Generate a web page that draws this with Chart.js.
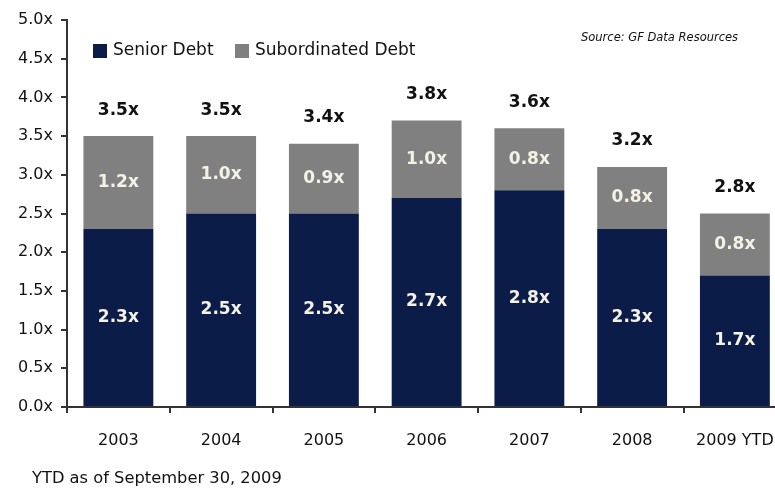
<!DOCTYPE html>
<html>
<head>
<meta charset="utf-8">
<script src="https://cdn.jsdelivr.net/npm/chart.js@4.4.1/dist/chart.umd.min.js"></script>
<style>
    html, body { margin: 0; padding: 0; background: #fff; overflow: hidden; }
    #wrap { position: relative; width: 792px; height: 488px; }
    #debtChart { position: absolute; left: 0; top: 0; }
    .note {
        position: absolute;
        font-family: "DejaVu Sans", Verdana, sans-serif;
        color: #111;
        white-space: nowrap;
    }
    #source { left: 581px; top: 30px; font-size: 11.5px; font-style: italic; }
    #footnote { left: 32px; top: 468px; font-size: 16.3px; }
</style>
</head>
<body>
<div id="wrap">
    <canvas id="debtChart" width="792" height="488"></canvas>
    <div id="source" class="note">Source: GF Data Resources</div>
    <div id="footnote" class="note">YTD as of September 30, 2009</div>
</div>
<script>
// Leverage multiples by year
const years = ['2003', '2004', '2005', '2006', '2007', '2008', '2009 YTD'];
const seniorDebt = [2.3, 2.5, 2.5, 2.7, 2.8, 2.3, 1.7];
const subordinatedDebt = [1.2, 1.0, 0.9, 1.0, 0.8, 0.8, 0.8];
const totalLabels = ['3.5x', '3.5x', '3.4x', '3.8x', '3.6x', '3.2x', '2.8x'];
const yTicks = [0, 0.5, 1.0, 1.5, 2.0, 2.5, 3.0, 3.5, 4.0, 4.5, 5.0];

const navy = '#0c1c48';
const grey = '#808080';
const axisColor = '#333333';
const fontFamily = '"DejaVu Sans", Verdana, sans-serif';

const fmt = v => v.toFixed(1) + 'x';

// Segment values inside bars, totals above each stack, legend in the top-left
const barLabels = {
    id: 'barLabels',
    afterDatasetsDraw(chart) {
        const ctx = chart.ctx;
        ctx.save();
        ctx.textAlign = 'center';
        ctx.textBaseline = 'middle';
        ctx.font = 'bold 17px ' + fontFamily;
        ctx.fillStyle = '#f4f2e6';
        chart.data.datasets.forEach((ds, di) => {
            chart.getDatasetMeta(di).data.forEach((bar, i) => {
                const mid = (bar.y + bar.base) / 2;
                ctx.fillText(fmt(ds.data[i]), bar.x, mid);
            });
        });
        ctx.fillStyle = '#111';
        const top = chart.getDatasetMeta(1).data;
        top.forEach((bar, i) => {
            ctx.fillText(totalLabels[i], bar.x, bar.y - 26);
        });

        // legend
        const items = [
            { label: 'Senior Debt', color: navy, x: 93 },
            { label: 'Subordinated Debt', color: grey, x: 235 }
        ];
        ctx.textAlign = 'left';
        ctx.font = '17px ' + fontFamily;
        items.forEach(it => {
            ctx.fillStyle = it.color;
            ctx.fillRect(it.x, 44, 14, 14);
            ctx.fillStyle = '#111';
            ctx.fillText(it.label, it.x + 20, 51);
        });
        ctx.restore();
    }
};

new Chart(document.getElementById('debtChart'), {
    type: 'bar',
    data: {
        labels: years,
        datasets: [
            {
                label: 'Senior Debt',
                data: seniorDebt,
                backgroundColor: navy,
                categoryPercentage: 1,
                barPercentage: 0.68
            },
            {
                label: 'Subordinated Debt',
                data: subordinatedDebt,
                backgroundColor: grey,
                categoryPercentage: 1,
                barPercentage: 0.68
            }
        ]
    },
    options: {
        responsive: false,
        animation: false,
        layout: { padding: { top: 20, right: 4, left: 0, bottom: 0 } },
        plugins: {
            legend: { display: false },
            tooltip: { enabled: false }
        },
        scales: {
            x: {
                stacked: true,
                afterFit(scale) { scale.height = 81; },
                border: { color: axisColor, width: 2 },
                grid: {
                    offset: true,
                    drawOnChartArea: false,
                    tickLength: 6,
                    color: axisColor,
                    lineWidth: 2
                },
                ticks: {
                    color: '#111',
                    padding: 18,
                    font: { family: fontFamily, size: 16 }
                }
            },
            y: {
                stacked: true,
                min: 0,
                max: 5,
                afterFit(scale) { scale.width = 67; },
                afterBuildTicks(scale) {
                    scale.ticks = yTicks.map(v => ({ value: v }));
                },
                border: { color: axisColor, width: 2 },
                grid: {
                    drawOnChartArea: false,
                    tickLength: 6,
                    color: axisColor,
                    lineWidth: 2
                },
                ticks: {
                    color: '#111',
                    padding: 8,
                    font: { family: fontFamily, size: 16 },
                    callback: v => fmt(v)
                }
            }
        }
    },
    plugins: [barLabels]
});
</script>
</body>
</html>
